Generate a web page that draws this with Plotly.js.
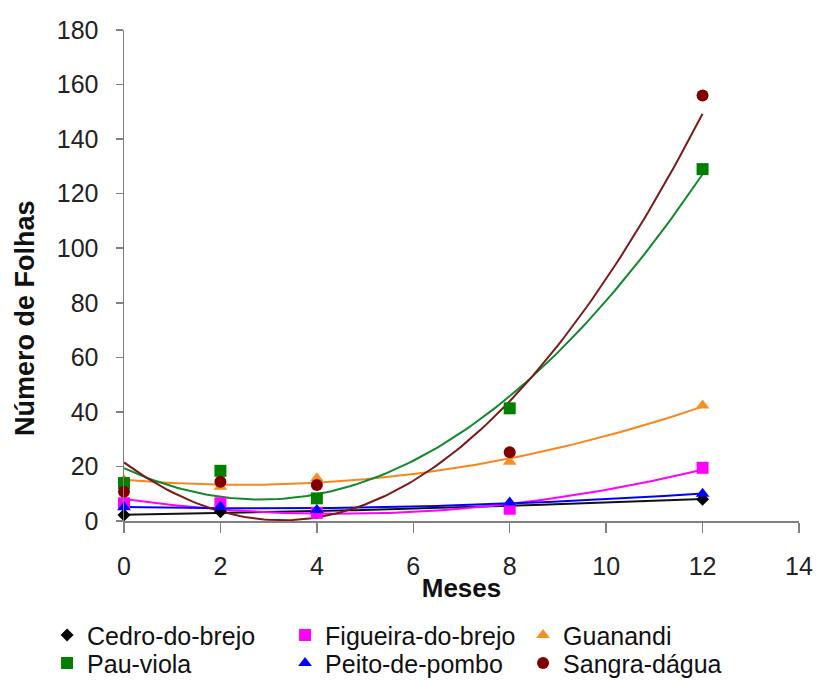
<!DOCTYPE html>
<html>
<head>
<meta charset="utf-8">
<script src="https://cdn.plot.ly/plotly-3.0.1.min.js"></script>
<style>html,body{margin:0;padding:0;background:#fff;}#chart{width:818px;height:680px;}</style>
</head>
<body>
<div id="chart"></div>
<script>
// Months
var meses = [0, 2, 4, 8, 12];

// Number of leaves per species
var cedroDoBrejo     = [2.2, 3.4, 3, 5.9, 8];
var figueiraDoBrejo  = [6.5, 6.5, 3, 4.5, 19.5];
var guanandi         = [15, 12.6, 15.7, 21.7, 42.3];
var pauViola         = [13.9, 18.4, 8.3, 41.3, 129];
var peitoDePombo     = [5, 5.2, 4, 6.8, 10];
var sangraDagua      = [10.7, 14.4, 13.2, 25.2, 156];

var seriesNames = ['Cedro-do-brejo', 'Figueira-do-brejo', 'Guanandi', 'Pau-viola', 'Peito-de-pombo', 'Sangra-dágua'];
var seriesData  = [cedroDoBrejo, figueiraDoBrejo, guanandi, pauViola, peitoDePombo, sangraDagua];
var markerColors = ['#000000', '#ff00ff', '#f7901e', '#008000', '#0000ff', '#800000'];
var lineColors   = ['#111111', '#ff00ff', '#f7861e', '#118a2e', '#0000ff', '#7a1a1a'];
var symbols      = ['diamond', 'square', 'triangle-up', 'square', 'triangle-up', 'circle'];
var sizes        = [10, 12, 12, 12, 12, 12];
var legendRows   = ['legend', 'legend', 'legend', 'legend2', 'legend2', 'legend2'];

var xTicks = [0, 2, 4, 6, 8, 10, 12, 14];
var yTicks = [0, 20, 40, 60, 80, 100, 120, 140, 160, 180];

// Polynomial (order 2) least-squares trendline, as Excel does
function polyFit2(xs, ys) {
  var n = xs.length, s = [0,0,0,0,0], t = [0,0,0];
  for (var i = 0; i < n; i++) {
    var x = xs[i], y = ys[i];
    for (var k = 0; k <= 4; k++) s[k] += Math.pow(x, k);
    for (var k2 = 0; k2 <= 2; k2++) t[k2] += Math.pow(x, k2) * y;
  }
  var A = [[s[0], s[1], s[2], t[0]], [s[1], s[2], s[3], t[1]], [s[2], s[3], s[4], t[2]]];
  for (var c = 0; c < 3; c++) {
    var p = c;
    for (var r = c + 1; r < 3; r++) if (Math.abs(A[r][c]) > Math.abs(A[p][c])) p = r;
    var tmp = A[c]; A[c] = A[p]; A[p] = tmp;
    for (var r2 = 0; r2 < 3; r2++) {
      if (r2 === c) continue;
      var f = A[r2][c] / A[c][c];
      for (var cc = c; cc < 4; cc++) A[r2][cc] -= f * A[c][cc];
    }
  }
  return [A[0][3] / A[0][0], A[1][3] / A[1][1], A[2][3] / A[2][2]];
}

var traces = [];
var font = 'Liberation Sans, Arial, sans-serif';
for (var i = 0; i < seriesData.length; i++) {
  var co = polyFit2(meses, seriesData[i]);
  var tx = [], ty = [];
  var x0 = meses[0], x1 = meses[meses.length - 1];
  for (var j = 0; j <= 120; j++) {
    var x = x0 + (x1 - x0) * j / 120;
    tx.push(x); ty.push(co[0] + co[1] * x + co[2] * x * x);
  }
  traces.push({x: tx, y: ty, mode: 'lines', showlegend: false, hoverinfo: 'skip',
    line: {color: lineColors[i], width: 2}});
}
for (var i2 = 0; i2 < seriesData.length; i2++) {
  traces.push({x: meses, y: seriesData[i2], name: seriesNames[i2], mode: 'markers', legend: legendRows[i2],
    marker: {color: markerColors[i2], symbol: symbols[i2], size: sizes[i2]}, cliponaxis: false});
}

var legendBase = {orientation: 'h', xanchor: 'left', yanchor: 'top',
  font: {family: font, size: 25, color: '#111'}, entrywidth: 193, entrywidthmode: 'pixels',
  itemwidth: 30, tracegroupgap: 0, bgcolor: 'rgba(0,0,0,0)'};
var legend1 = Object.assign({}, legendBase, {x: -0.114, y: -0.186});
var legend2 = Object.assign({}, legendBase, {x: -0.114, y: -0.243});

var layout = {
  width: 818, height: 680,
  margin: {l: 124, r: 19, t: 30, b: 159, autoexpand: false},
  paper_bgcolor: '#ffffff', plot_bgcolor: '#ffffff',
  font: {family: font, color: '#222'},
  showlegend: true,
  legend: legend1,
  legend2: legend2,
  xaxis: {range: [0, 14], tickvals: xTicks, ticktext: xTicks.map(String), showgrid: false, zeroline: false,
    showline: true, linecolor: '#808080', linewidth: 1.5, ticks: 'outside', ticklen: 10, tickcolor: '#808080',
    tickwidth: 1.5, tickfont: {family: font, size: 25, color: '#222'}, ticklabelstandoff: 12,
    title: {text: 'Meses', font: {family: font, size: 26, color: '#111', weight: 'bold'}, standoff: 0}},
  yaxis: {range: [0, 180], tickvals: yTicks, ticktext: yTicks.map(String), showgrid: false, zeroline: false,
    showline: true, linecolor: '#808080', linewidth: 1.5, ticks: 'outside', ticklen: 7, tickcolor: '#808080',
    tickwidth: 1.5, tickfont: {family: font, size: 25, color: '#222'}, ticklabelstandoff: 12},
  annotations: [{text: '<b>Número de Folhas</b>', xref: 'paper', yref: 'paper', x: -0.147, y: 0.413,
    xanchor: 'center', yanchor: 'middle', textangle: -90, showarrow: false,
    font: {family: font, size: 27, color: '#111'}}]
};

Plotly.newPlot('chart', traces, layout, {displayModeBar: false, staticPlot: true});
</script>
</body>
</html>
